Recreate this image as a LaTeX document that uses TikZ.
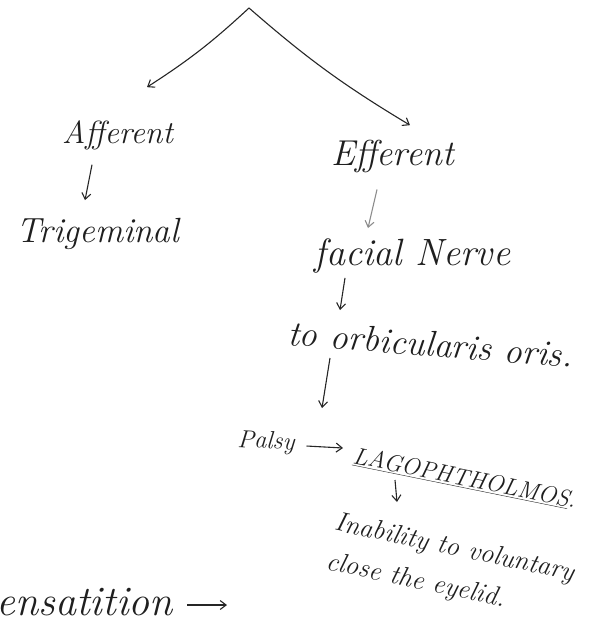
\documentclass[tikz,border=0pt]{standalone}
\usetikzlibrary{arrows.meta}
\begin{document}
\begin{tikzpicture}[x=1pt,y=-1pt,
  hand/.style={inner sep=0pt, text=black!88},
  link/.style={-{Straight Barb[length=6pt,width=9pt]}, line width=1.1pt, draw=black!85},
  faint/.style={link, draw=black!45},
]
\useasboundingbox (0,0) rectangle (597,621);
\coordinate (top) at (249,8);
\node[hand, anchor=base, font=\fontsize{32}{38}\selectfont\itshape] (aff) at (117.5,143) {Afferent};
\node[hand, anchor=base, font=\fontsize{36}{42}\selectfont\itshape] (eff) at (392.5,165) {Efferent};
\node[hand, anchor=base, font=\fontsize{35}{42}\selectfont\itshape] (tri) at (98,242) {Trigeminal};
\node[hand, anchor=base, font=\fontsize{38}{44}\selectfont\itshape] (fac) at (412.5,265) {facial Nerve};
\node[hand, anchor=base west, rotate=-4.5, font=\fontsize{36}{42}\selectfont\itshape] (orb) at (287,345) {to orbicularis oris.};
\node[hand, anchor=base west, rotate=-3, font=\fontsize{25}{30}\selectfont\itshape] (pal) at (237,447) {Palsy};
\node[hand, anchor=base west, rotate=-11.5, font=\fontsize{24}{30}\selectfont\itshape] (lag) at (352,463) {\underline{LAGOPHTHOLMOS}.};
\node[hand, anchor=base west, rotate=-12, align=left, font=\fontsize{27}{40}\selectfont\itshape] (inab) at (325,569) {Inability to voluntary\\close the eyelid.};
\node[hand, anchor=base east, font=\fontsize{42}{48}\selectfont\itshape] (ens) at (173,615) {ensatition};
\coordinate (ensend) at (227,605);

\draw[link] (top) to[bend left=5] ([xshift=29.5pt,yshift=32.8pt]aff.north);
\draw[link] (top) to[bend right=5] ([xshift=17.5pt,yshift=14.3pt]eff.north);
\draw[link] ([xshift=-25.5pt,yshift=-15pt]aff.south) -- ([xshift=-13pt,yshift=17.4pt]tri.north);
\draw[faint] ([xshift=-15.5pt,yshift=-17pt]eff.south) -- ([xshift=-44.5pt,yshift=10pt]fac.north);
\draw[link] ([xshift=-67.5pt,yshift=-5pt]fac.south) -- ([xshift=53pt,yshift=35pt]orb.base west);
\draw[link] ([xshift=43pt,yshift=-13pt]orb.base west) -- ([xshift=-30pt,yshift=55pt]lag.base west);
\draw[link] ([xshift=12pt,yshift=4pt]pal.base east) -- ([xshift=-9pt,yshift=15pt]lag.base west);
\draw[link] ([xshift=43pt,yshift=-17pt]lag.base west) -- ([xshift=72pt,yshift=67pt]inab.base west);
\draw[link] ([xshift=14pt,yshift=10pt]ens.base east) -- (ensend);
\end{tikzpicture}
\end{document}
